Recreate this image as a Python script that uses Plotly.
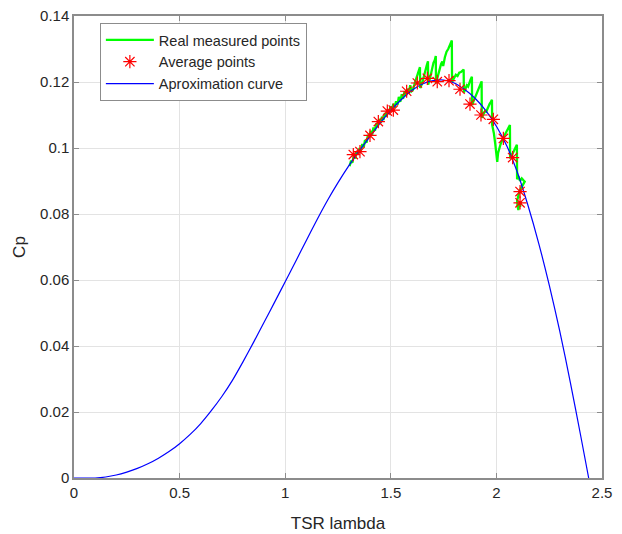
import plotly.graph_objects as go

# Approximation curve
curve_x = [0.00, 0.05, 0.10, 0.15, 0.20, 0.25, 0.30, 0.35, 0.40, 0.45, 0.50, 0.55, 0.60, 0.65, 0.70,
           0.75, 0.80, 0.85, 0.90, 0.95, 1.00, 1.05, 1.10, 1.15, 1.20, 1.25, 1.30, 1.35, 1.40, 1.45,
           1.50, 1.55, 1.60, 1.65, 1.70, 1.75, 1.80, 1.85, 1.90, 1.95, 2.00, 2.05, 2.10, 2.15, 2.20,
           2.25, 2.30, 2.35, 2.40, 2.437]
curve_y = [0.0, 0.0, 0.0, 0.0003, 0.0009, 0.0018, 0.0029, 0.0043, 0.0060, 0.0080, 0.0104, 0.0132, 0.0165,
           0.0204, 0.0247, 0.0296, 0.0352, 0.0411, 0.0472, 0.0533, 0.0595, 0.0657, 0.0720, 0.0782, 0.0841,
           0.0895, 0.0945, 0.0991, 0.1034, 0.1076, 0.1114, 0.1147, 0.1175, 0.1194, 0.1204, 0.1206, 0.1197,
           0.1177, 0.1150, 0.1113, 0.1066, 0.1005, 0.0925, 0.0825, 0.0712, 0.0585, 0.0445, 0.0290, 0.0125, 0.0]

# Average points
avg_x = [1.3225, 1.354, 1.4015, 1.441, 1.4835, 1.512, 1.575, 1.6256, 1.673, 1.720, 1.7756, 1.8277,
         1.875, 1.927, 1.9855, 2.033, 2.077, 2.112, 2.112]
avg_y = [0.0980, 0.0989, 0.1038, 0.1080, 0.1112, 0.1115, 0.1172, 0.1197, 0.1211, 0.1201, 0.1204, 0.1178,
         0.1133, 0.1100, 0.1087, 0.1029, 0.0971, 0.0868, 0.0834]

# Real measured points
meas_x = [1.305, 1.312, 1.318, 1.325, 1.332, 1.338, 1.345, 1.352, 1.358, 1.365, 1.372, 1.378, 1.385, 1.392,
          1.398, 1.405, 1.412, 1.418, 1.425, 1.432, 1.438, 1.445, 1.452, 1.458, 1.465, 1.472, 1.478, 1.485,
          1.492, 1.498, 1.505, 1.512, 1.518, 1.525, 1.532, 1.538, 1.545, 1.552, 1.558, 1.565, 1.572, 1.578,
          1.585, 1.592, 1.598,
          1.605, 1.615, 1.625, 1.632, 1.638, 1.639,
          1.648, 1.656, 1.664, 1.670, 1.676, 1.677,
          1.686, 1.694, 1.702, 1.708, 1.713, 1.714,
          1.722, 1.730, 1.738, 1.744, 1.748, 1.756, 1.764, 1.772, 1.778, 1.784, 1.789, 1.790,
          1.798, 1.808, 1.816, 1.824, 1.832, 1.840, 1.845, 1.846,
          1.852, 1.860, 1.866, 1.872, 1.878, 1.884, 1.885,
          1.892, 1.900, 1.906, 1.912, 1.918, 1.924, 1.930, 1.931,
          1.938, 1.946, 1.952, 1.960, 1.968, 1.974, 1.979, 1.980,
          1.988, 1.995, 2.000, 2.004, 2.008, 2.014, 2.020,
          2.028, 2.036, 2.044, 2.052, 2.058, 2.064, 2.065,
          2.072, 2.080, 2.088, 2.094, 2.097, 2.098,
          2.104, 2.112, 2.120, 2.128, 2.134, 2.118, 2.110, 2.104, 2.098, 2.100, 2.104, 2.108, 2.112, 2.116]
meas_y = [0.0945, 0.0962, 0.0955, 0.0978, 0.0968, 0.0990, 0.0981, 0.1000, 0.0992, 0.1012, 0.1003, 0.1024,
          0.1016, 0.1040, 0.1030, 0.1052, 0.1041, 0.1062, 0.1052, 0.1075, 0.1063, 0.1088, 0.1076, 0.1095,
          0.1085, 0.1106, 0.1095, 0.1115, 0.1104, 0.1126, 0.1114, 0.1134, 0.1122, 0.1142, 0.1131, 0.1155,
          0.1140, 0.1163, 0.1149, 0.1172, 0.1158, 0.1180, 0.1165, 0.1190, 0.1172,
          0.1176, 0.1200, 0.1222, 0.1235, 0.1245, 0.1182,
          0.1195, 0.1215, 0.1240, 0.1250, 0.1263, 0.1192,
          0.1212, 0.1236, 0.1258, 0.1266, 0.1279, 0.1196,
          0.1218, 0.1240, 0.1255, 0.1262, 0.1248, 0.1275, 0.1292, 0.1300, 0.1312, 0.1318, 0.1326, 0.1200,
          0.1210, 0.1222, 0.1218, 0.1228, 0.1230, 0.1236, 0.1238, 0.1168,
          0.1178, 0.1190, 0.1186, 0.1200, 0.1208, 0.1216, 0.1130,
          0.1142, 0.1156, 0.1160, 0.1172, 0.1182, 0.1192, 0.1202, 0.1092,
          0.1102, 0.1112, 0.1110, 0.1124, 0.1134, 0.1140, 0.1146, 0.1070,
          0.1045, 0.1010, 0.0975, 0.0958, 0.0985, 0.1000, 0.1012,
          0.1025, 0.1036, 0.1042, 0.1055, 0.1062, 0.1070, 0.0968,
          0.0978, 0.0988, 0.0998, 0.1006, 0.1010, 0.0905,
          0.0915, 0.0900, 0.0908, 0.0902, 0.0898, 0.0880, 0.0870, 0.0855, 0.0840, 0.0825, 0.0812, 0.0830,
          0.0822, 0.0838]

x_ticks = [0, 0.5, 1, 1.5, 2, 2.5]
x_tick_text = ["0", "0.5", "1", "1.5", "2", "2.5"]
y_ticks = [0, 0.02, 0.04, 0.06, 0.08, 0.10, 0.12, 0.14]
y_tick_text = ["0", "0.02", "0.04", "0.06", "0.08", "0.1", "0.12", "0.14"]

FONT = "Liberation Sans, Arial, Helvetica, sans-serif"
AXIS_COLOR = "#8c8c8c"
GRID_COLOR = "#e3e3e3"

fig = go.Figure()
fig.add_trace(go.Scatter(x=meas_x, y=meas_y, mode="lines", name="Real measured points",
                         line=dict(color="rgb(0,255,0)", width=2.3), legendrank=1))
fig.add_trace(go.Scatter(x=curve_x, y=curve_y, mode="lines", name="Aproximation curve",
                         line=dict(color="rgb(0,0,255)", width=1.2, shape="spline", smoothing=0.8),
                         legendrank=3))
fig.add_trace(go.Scatter(x=avg_x, y=avg_y, mode="markers", name="Average points",
                         marker=dict(symbol="asterisk-open", size=11, color="red",
                                     line=dict(color="red", width=1.2)), legendrank=2))

fig.update_layout(
    width=622, height=534,
    margin=dict(l=74, r=20, t=16, b=56),
    paper_bgcolor="white", plot_bgcolor="white",
    font=dict(family=FONT, size=15, color="#262626"),
    showlegend=True,
    legend=dict(x=0.049, y=0.985, xanchor="left", yanchor="top",
                bgcolor="white", bordercolor="#8c8c8c", borderwidth=1,
                font=dict(size=14.5, color="#262626"), tracegroupgap=0, itemwidth=48),
    xaxis=dict(range=[0, 2.5], tickvals=x_ticks, ticktext=x_tick_text, automargin=False,
               showgrid=True, gridcolor=GRID_COLOR, gridwidth=1,
               showline=True, linecolor=AXIS_COLOR, linewidth=1.5, mirror="ticks",
               ticks="inside", ticklen=5, tickcolor=AXIS_COLOR, zeroline=False,
               title=dict(text="TSR lambda", font=dict(size=17), standoff=17),
               tickfont=dict(size=15)),
    yaxis=dict(range=[0, 0.14], tickvals=y_ticks, ticktext=y_tick_text, automargin=False,
               showgrid=True, gridcolor=GRID_COLOR, gridwidth=1,
               showline=True, linecolor=AXIS_COLOR, linewidth=1.5, mirror="ticks",
               ticks="inside", ticklen=5, tickcolor=AXIS_COLOR, zeroline=False,
               title=dict(text="Cp", font=dict(size=17), standoff=10),
               tickfont=dict(size=15)),
)

fig.write_html("out.html", config={"displayModeBar": False},
               post_script="document.body.style.margin='0';")
